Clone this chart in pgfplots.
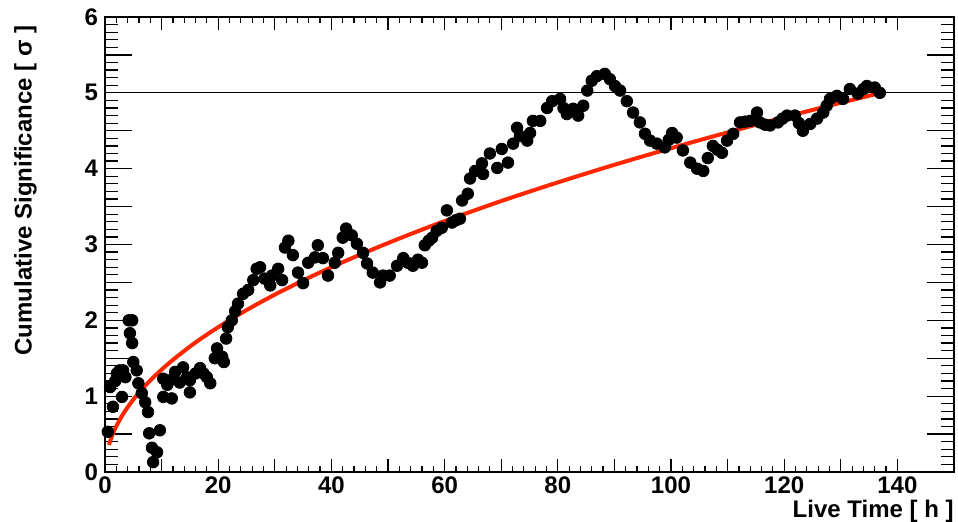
\documentclass[border=0pt]{standalone}
\usepackage{pgfplots}
\pgfplotsset{compat=1.18}
\usepackage{fontspec}
\setmainfont{Liberation Sans}
\definecolor{fitred}{RGB}{255,38,0}

\begin{document}
\begin{tikzpicture}
\begin{axis}[
    scale only axis,
    width=424.5bp, height=227.5bp,
    xmin=0, xmax=150,
    ymin=0, ymax=6,
    xtick={0,20,...,140},
    ytick={0,1,...,6},
    minor x tick num=9,
    minor y tick num=9,
    extra x ticks={10,30,50,70,90,110,130,150},
    extra x tick labels={},
    extra x tick style={major tick length=4.8bp},
    extra y ticks={0.5,1.5,2.5,3.5,4.5,5.5},
    extra y tick labels={},
    extra y tick style={major tick length=10bp},
    tick align=inside,
    xtick pos=both, ytick pos=both,
    x tick style={/pgfplots/major tick length=6.5bp, /pgfplots/minor tick length=3.2bp},
    y tick style={/pgfplots/major tick length=13.5bp, /pgfplots/minor tick length=6.5bp},
    axis line style={line width=0.8bp},
    every tick/.style={black, line width=0.6bp},
    /pgf/number format/assume math mode=true,
    tick label style={font=\fontsize{12bp}{14bp}\selectfont\bfseries},
    xticklabel style={yshift=1bp},
    label style={font=\fontsize{12bp}{14bp}\selectfont\bfseries},
    xlabel={Live Time [ h ]},
    ylabel={Cumulative Significance [ σ ]},
    xlabel style={at={(axis description cs:1,-0.112)}, anchor=south east, inner sep=0pt},
    ylabel style={at={(axis description cs:-0.08,0.982)}, anchor=south east, inner sep=0pt},
    clip=false,
]
\coordinate (bl) at (rel axis cs:0,0);
\coordinate (tr) at (rel axis cs:1,1);

% threshold line
\addplot[black, line width=0.5bp] coordinates {(0,5) (150,5)};

% cumulative significance points
\addplot[only marks, mark=*, mark size=2.9bp, black] coordinates {
(0.5,0.53) (0.9,1.12) (1.4,0.86) (1.8,1.20) (2.1,1.30) (2.6,1.34) (3.0,0.99)
(3.2,1.34) (3.6,1.25) (4.2,2.00) (4.8,2.00) (4.4,1.83) (4.8,1.70) (5.0,1.45)
(5.6,1.34) (5.9,1.17) (6.5,1.04) (7.1,0.92) (7.6,0.79) (7.8,0.51) (8.3,0.32)
(8.5,0.13) (9.2,0.26) (9.7,0.55) (10.3,1.23) (10.3,0.99) (11.0,1.15) (11.5,1.21)
(11.8,0.97) (12.4,1.32) (13.2,1.18) (13.8,1.38) (14.5,1.25) (15.0,1.05) (15.0,1.21)
(16.0,1.30) (16.8,1.37) (17.4,1.30) (18.0,1.25) (18.6,1.17) (19.4,1.50) (19.8,1.63)
(20.7,1.52) (21.0,1.45) (21.4,1.76) (21.7,1.91) (22.4,2.00) (23.0,2.12) (23.5,2.22)
(24.4,2.35) (25.3,2.40) (26.2,2.53) (26.8,2.68) (27.4,2.70) (28.2,2.55) (29.2,2.46)
(29.5,2.59) (30.6,2.68) (31.3,2.53) (31.8,2.96) (32.4,3.05) (33.2,2.86) (34.1,2.63)
(35.0,2.49) (35.9,2.76) (37.1,2.83) (37.6,2.99) (38.5,2.82) (39.4,2.59) (40.6,2.76)
(41.2,2.89) (42.0,3.09) (42.6,3.21) (43.6,3.12) (44.5,3.01) (45.6,2.89) (46.3,2.75)
(47.3,2.63) (48.6,2.50) (49.1,2.59) (50.3,2.59) (51.6,2.72) (52.7,2.82) (53.5,2.76)
(54.4,2.72) (55.3,2.80) (56.0,2.76) (56.5,2.99) (57.2,3.05) (57.8,3.09) (58.6,3.18)
(59.5,3.22) (60.4,3.45) (61.3,3.29) (62.0,3.32) (62.7,3.34) (63.1,3.58) (64.1,3.67)
(64.5,3.87) (65.4,3.97) (66.6,4.07) (66.8,3.93) (68.0,4.20) (69.3,4.01) (70.1,4.26)
(71.2,4.08) (72.1,4.33) (72.8,4.54) (73.3,4.43) (74.6,4.37) (75.1,4.47) (75.6,4.63)
(76.9,4.63) (78.1,4.80) (79.0,4.89) (80.4,4.92) (81.0,4.80) (81.6,4.72) (82.7,4.79)
(83.6,4.70) (84.5,4.83) (85.2,5.03) (86.0,5.16) (86.9,5.22) (88.3,5.25) (89.2,5.18)
(90.1,5.09) (91.0,5.03) (92.2,4.89) (93.3,4.74) (94.5,4.61) (95.4,4.46) (96.3,4.37)
(97.5,4.33) (98.9,4.28) (99.6,4.38) (100.2,4.47) (101.0,4.41) (102.1,4.24) (103.4,4.08)
(104.6,4.00) (105.7,3.97) (106.5,4.14) (107.4,4.30) (108.2,4.25) (109.0,4.21) (109.9,4.37)
(111.0,4.46) (112.2,4.61) (113.1,4.62) (114.0,4.63) (115.2,4.74) (115.7,4.61) (116.6,4.58)
(117.5,4.57) (118.9,4.61) (119.7,4.66) (120.5,4.70) (121.9,4.70) (122.6,4.60) (123.3,4.50)
(124.6,4.59) (125.8,4.66) (126.9,4.74) (127.5,4.83) (128.1,4.92) (129.3,4.96) (130.4,4.92)
(131.6,5.05) (133.0,4.99) (134.0,5.05) (134.6,5.09) (136.0,5.07) (136.9,5.00)
};

% square-root fit
\addplot[fitred, line width=2bp, smooth] coordinates {
(0.7,0.357) (1,0.427) (1.5,0.523) (2,0.604) (3,0.740) (4,0.854) (5,0.955)
(6,1.046) (8,1.208) (10,1.350) (12,1.479) (15,1.654) (18,1.812) (22,2.003)
(26,2.177) (30,2.339) (35,2.526) (40,2.701) (45,2.864) (50,3.019) (55,3.167)
(60,3.308) (70,3.573) (80,3.819) (90,4.051) (100,4.270) (110,4.478) (120,4.678)
(130,4.869) (137,4.998)
};

\end{axis}
\pgfresetboundingbox
\path ([shift={(-52.5bp,-25bp)}]bl) rectangle ([shift={(2bp,8.5bp)}]tr);
\end{tikzpicture}
\end{document}
